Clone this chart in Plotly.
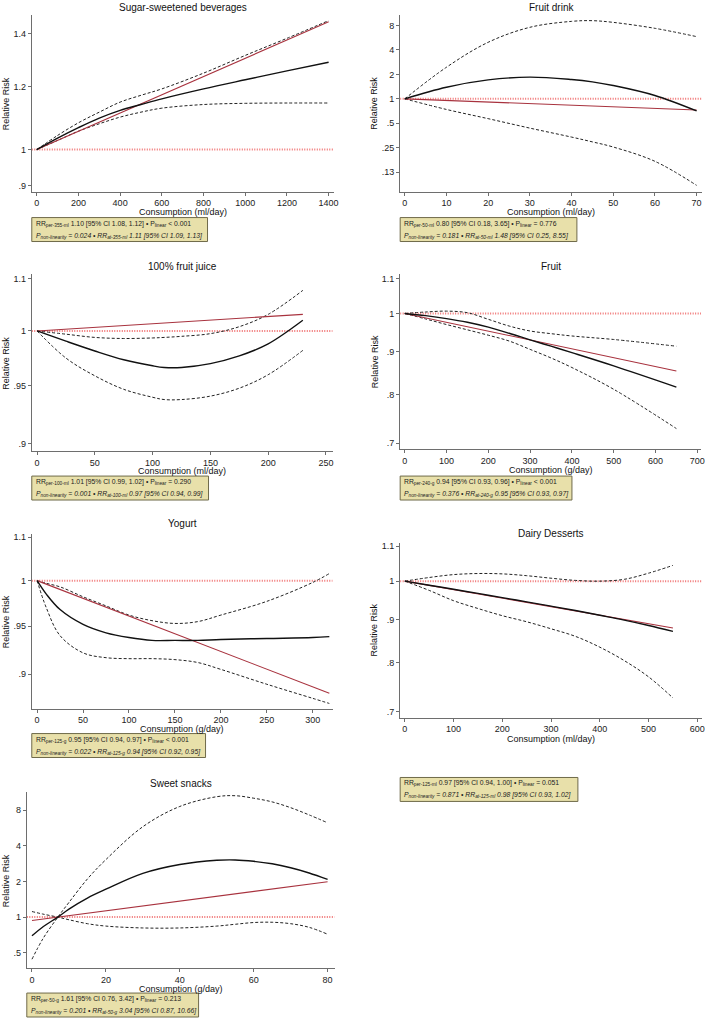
import plotly.graph_objects as go

W, H = 709, 1018

# ---------------- data ----------------
titles = ["Sugar-sweetened beverages", "Fruit drink", "100% fruit juice", "Fruit",
          "Yogurt", "Dairy Desserts", "Sweet snacks"]
x_titles = ["Consumption (ml/day)", "Consumption (ml/day)", "Consumption (ml/day)",
            "Consumption (g/day)", "Consumption (g/day)", "Consumption (ml/day)",
            "Consumption (g/day)"]

# Sugar-sweetened beverages
ssb_x = [0, 100, 200, 300, 400, 500, 600, 800, 1000, 1200, 1400]
ssb_rr = [1.0, 1.034, 1.066, 1.096, 1.121, 1.140, 1.159, 1.193, 1.225, 1.257, 1.289]
ssb_hi = [1.0, 1.042, 1.081, 1.115, 1.148, 1.171, 1.193, 1.249, 1.315, 1.382, 1.455]
ssb_lo = [1.0, 1.027, 1.055, 1.078, 1.099, 1.115, 1.128, 1.140, 1.144, 1.145, 1.145]
ssb_lin_x = [0, 1400]
ssb_lin = [1.0, 1.45]

# Fruit drink
fd_x = [0, 10, 20, 30, 40, 45, 50, 60, 70]
fd_rr = [1.0, 1.39, 1.71, 1.85, 1.73, 1.62, 1.46, 1.10, 0.71]
fd_hi = [1.0, 2.45, 4.97, 7.6, 9.0, 9.18, 8.75, 7.39, 5.84]
fd_lo = [1.0, 0.74, 0.57, 0.436, 0.338, 0.295, 0.255, 0.17, 0.086]
fd_lin_x = [0, 70]
fd_lin = [1.0, 0.73]

# 100% fruit juice
fj_x = [0, 25, 50, 75, 100, 110, 125, 150, 175, 200, 230]
fj_rr = [1.0, 0.9905, 0.9815, 0.9735, 0.968, 0.9665, 0.9665, 0.970, 0.977, 0.988, 1.010]
fj_hi = [1.0, 0.997, 0.994, 0.993, 0.9935, 0.994, 0.995, 0.9975, 1.004, 1.0156, 1.0386]
fj_lo = [1.0, 0.975, 0.959, 0.947, 0.940, 0.938, 0.938, 0.941, 0.948, 0.960, 0.982]
fj_lin_x = [0, 230]
fj_lin = [1.0, 1.0156]

# Fruit
fr_x = [0, 50, 100, 150, 200, 250, 300, 350, 400, 500, 650]
fr_rr = [1.0, 0.994, 0.986, 0.976, 0.963, 0.947, 0.930, 0.914, 0.898, 0.866, 0.817]
fr_hi = [1.0, 1.004, 1.0064, 1.002, 0.984, 0.966, 0.953, 0.946, 0.940, 0.931, 0.914]
fr_lo = [1.0, 0.985, 0.970, 0.956, 0.942, 0.927, 0.906, 0.885, 0.862, 0.812, 0.729]
fr_lin_x = [0, 650]
fr_lin = [1.0, 0.854]

# Yogurt
yo_x = [0, 10, 25, 50, 75, 100, 125, 150, 175, 200, 250, 300, 318]
yo_rr = [1.0, 0.985, 0.968, 0.952, 0.943, 0.938, 0.935, 0.935, 0.935, 0.936, 0.937, 0.938, 0.939]
yo_hi = [1.0, 0.997, 0.993, 0.982, 0.972, 0.962, 0.956, 0.953, 0.955, 0.962, 0.977, 0.998, 1.008]
yo_lo = [1.0, 0.970, 0.940, 0.922, 0.917, 0.916, 0.916, 0.915, 0.912, 0.905, 0.890, 0.876, 0.871]
yo_lin_x = [0, 318]
yo_lin = [1.0, 0.881]

# Dairy desserts
dd_x = [0, 50, 100, 150, 200, 250, 300, 350, 400, 450, 500, 550]
dd_rr = [1.0, 0.989, 0.978, 0.967, 0.956, 0.945, 0.934, 0.923, 0.911, 0.899, 0.886, 0.872]
dd_hi = [1.0, 1.010, 1.018, 1.021, 1.020, 1.015, 1.008, 1.002, 1.000, 1.005, 1.022, 1.044]
dd_lo = [1.0, 0.975, 0.948, 0.928, 0.910, 0.895, 0.878, 0.860, 0.835, 0.805, 0.770, 0.727]
dd_lin_x = [0, 550]
dd_lin = [1.0, 0.880]

# Sweet snacks
ss_x = [0, 3, 7, 10, 15, 20, 30, 40, 50, 55, 60, 65, 70, 75, 80]
ss_rr = [0.695, 0.83, 1.0, 1.17, 1.45, 1.72, 2.34, 2.78, 3.02, 3.04, 2.96, 2.82, 2.61, 2.36, 2.08]
ss_a = [1.115, 1.06, 1.0, 0.95, 0.88, 0.84, 0.81, 0.81, 0.84, 0.87, 0.90, 0.905, 0.88, 0.82, 0.717]
ss_b = [0.441, 0.66, 1.0, 1.33, 2.1, 3.06, 5.8, 8.6, 10.4, 10.6, 10.1, 9.4, 8.4, 7.3, 6.26]
ss_lin_x = [0, 80]
ss_lin = [0.936, 1.99]

# statistics text
st_per = ["per-355-ml", "per-50-ml", "per-100-ml", "per-240-g", "per-125-g", "per-125-ml", "per-50-g"]
st_at = ["at-355-ml", "at-50-ml", "at-100-ml", "at-240-g", "at-125-g", "at-125-ml", "at-50-g"]
st_rr = ["1.10", "0.80", "1.01", "0.94", "0.95", "0.97", "1.61"]
st_ci = ["1.08, 1.12", "0.18, 3.65", "0.99, 1.02", "0.93, 0.96", "0.94, 0.97", "0.94, 1.00", "0.76, 3.42"]
st_plin = ["< 0.001", "= 0.776", "= 0.290", "< 0.001", "< 0.001", "= 0.051", "= 0.213"]
st_pnl = ["0.024", "0.181", "0.001", "0.376", "0.022", "0.871", "0.201"]
st_rr2 = ["1.11", "1.48", "0.97", "0.95", "0.94", "0.98", "3.04"]
st_ci2 = ["1.09, 1.13", "0.25, 8.55", "0.94, 0.99", "0.93, 0.97", "0.92, 0.95", "0.93, 1.02", "0.87, 10.66"]

# axis ticks
x_ticks = [list(range(0, 1401, 200)), list(range(0, 71, 10)), list(range(0, 251, 50)),
           list(range(0, 701, 100)), list(range(0, 301, 50)), list(range(0, 601, 100)),
           list(range(0, 81, 20))]
y_tickvals = [[0.9, 1, 1.2, 1.4], [0.125, 0.25, 0.5, 1, 2, 4, 8], [0.9, 0.95, 1, 1.05],
              [0.7, 0.8, 0.9, 1, 1.1], [0.9, 0.95, 1, 1.05], [0.7, 0.8, 0.9, 1, 1.1],
              [0.5, 1, 2, 4, 8]]
y_ticktext = [[".9", "1", "1.2", "1.4"], [".13", ".25", ".5", "1", "2", "4", "8"],
              [".9", ".95", "1", "1.1"], [".7", ".8", ".9", "1", "1.1"],
              [".9", ".95", "1", "1.1"], [".7", ".8", ".9", "1", "1.1"],
              [".5", "1", "2", "4", "8"]]

# ---------------- layout (pixels) ----------------
# plot frames: left, right, top, bottom
frames = [(32, 336, 13, 190), (403, 707, 13, 190), (32, 335, 273, 450), (403, 706, 273, 448),
          (32, 335, 533, 708), (403, 707, 542, 717), (27, 337, 792, 968)]
x_ranges = [(-23.8, 1424), (-1.1, 71.3), (-4.6, 255.8), (-11, 709), (-5.8, 321.6),
            (-9.6, 609.6), (-1.4, 81.9)]
y_ranges = [(-0.0531, 0.170), (-1.143, 1.033), (-0.0487, 0.0229), (-0.1618, 0.0465),
            (-0.0625, 0.0228), (-0.1618, 0.0453), (-0.4306, 1.053)]
title_y = [6, 6, 265, 265, 523, 533, 783]
xtitle_y = [210.5, 210.5, 469.5, 468.5, 728.5, 738, 988.5]
ytitle_x = [6, 377, 6, 377, 6, 377, 6]
boxes = [(32, 209, 216, 240), (403, 581, 216, 240), (32, 210, 475, 499), (403, 576, 475, 499),
         (32, 207, 733, 757), (403, 582, 777, 801), (27, 200, 993, 1017)]

series = [
    (ssb_x, ssb_rr, [ssb_lo, ssb_hi], ssb_lin_x, ssb_lin),
    (fd_x, fd_rr, [fd_lo, fd_hi], fd_lin_x, fd_lin),
    (fj_x, fj_rr, [fj_lo, fj_hi], fj_lin_x, fj_lin),
    (fr_x, fr_rr, [fr_lo, fr_hi], fr_lin_x, fr_lin),
    (yo_x, yo_rr, [yo_lo, yo_hi], yo_lin_x, yo_lin),
    (dd_x, dd_rr, [dd_lo, dd_hi], dd_lin_x, dd_lin),
    (ss_x, ss_rr, [ss_a, ss_b], ss_lin_x, ss_lin),
]

def px(x):
    return x / W

def py(y):
    return 1 - y / H

FONT = "Liberation Sans, Arial, sans-serif"
AXIS_COLOR = "#6e6e6e"
RED = "#a8323e"
REF = "#f07070"

fig = go.Figure()
annotations = []
shapes = []

for i in range(7):
    n = "" if i == 0 else str(i + 1)
    xa, ya = "x" + n, "y" + n
    l, r, t, b = frames[i]
    xs, rr, cis, lx, ly = series[i]

    # reference line at RR = 1
    fig.add_trace(go.Scatter(x=list(x_ranges[i]), y=[1, 1], mode="lines",
                             line=dict(color=REF, width=2, dash="1px,1.5px"),
                             xaxis=xa, yaxis=ya, showlegend=False, hoverinfo="skip",
                             cliponaxis=False))
    for ci in cis:
        fig.add_trace(go.Scatter(x=xs, y=ci, mode="lines",
                                 line=dict(color="#222222", width=1, dash="3px,2px", shape="spline"),
                                 xaxis=xa, yaxis=ya, showlegend=False))
    fig.add_trace(go.Scatter(x=lx, y=ly, mode="lines", line=dict(color=RED, width=1.1),
                             xaxis=xa, yaxis=ya, showlegend=False))
    fig.add_trace(go.Scatter(x=xs, y=rr, mode="lines",
                             line=dict(color="#111111", width=1.4, shape="spline"),
                             xaxis=xa, yaxis=ya, showlegend=False))

    axis_common = dict(showline=True, linecolor=AXIS_COLOR, linewidth=1, ticks="outside",
                       ticklen=3, tickcolor=AXIS_COLOR, tickwidth=1, showgrid=False,
                       zeroline=False, tickfont=dict(family=FONT, size=9, color="#222"))
    fig.layout["xaxis" + n] = dict(domain=[px(l), px(r)], anchor=ya, range=list(x_ranges[i]),
                                   tickvals=x_ticks[i], **axis_common)
    fig.layout["yaxis" + n] = dict(domain=[py(b), py(t)], anchor=xa, type="log",
                                   range=list(y_ranges[i]), tickvals=y_tickvals[i],
                                   ticktext=y_ticktext[i], **axis_common)

    # titles
    annotations.append(dict(text=titles[i], x=px((l + r) / 2), y=py(title_y[i]), xref="paper",
                            yref="paper", showarrow=False, xanchor="center", yanchor="middle",
                            font=dict(family=FONT, size=10, color="#111")))
    annotations.append(dict(text=x_titles[i], x=px((l + r) / 2), y=py(xtitle_y[i]), xref="paper",
                            yref="paper", showarrow=False, xanchor="center", yanchor="middle",
                            font=dict(family=FONT, size=9, color="#111")))
    annotations.append(dict(text="Relative Risk", x=px(ytitle_x[i]), y=py((t + b) / 2),
                            xref="paper", yref="paper", showarrow=False, textangle=-90,
                            xanchor="center", yanchor="middle",
                            font=dict(family=FONT, size=9, color="#111")))

    # stats box
    bl, br, bt, bb = boxes[i]
    shapes.append(dict(type="rect", xref="paper", yref="paper", x0=px(bl), x1=px(br),
                       y0=py(bb), y1=py(bt), fillcolor="#e8e0aa",
                       line=dict(color="#6f6a4a", width=1), layer="above"))
    line1 = (f"RR<sub>{st_per[i]}</sub> {st_rr[i]} [95% CI {st_ci[i]}] \u2022 "
             f"P<sub>linear</sub> {st_plin[i]}")
    line2 = (f"<i>P<sub>non-linearity</sub> = {st_pnl[i]} \u2022 RR<sub>{st_at[i]}</sub> "
             f"{st_rr2[i]} [95% CI {st_ci2[i]}]</i>")
    annotations.append(dict(text=line1, x=px(bl + 2), y=py(bt + 6), xref="paper", yref="paper",
                            showarrow=False, xanchor="left", yanchor="middle",
                            font=dict(family=FONT, size=6.8, color="#222")))
    annotations.append(dict(text=line2, x=px(bl + 2), y=py(bt + 18), xref="paper", yref="paper",
                            showarrow=False, xanchor="left", yanchor="middle",
                            font=dict(family=FONT, size=6.8, color="#222")))

fig.update_layout(width=W, height=H, autosize=False, margin=dict(l=0, r=0, t=0, b=0),
                  paper_bgcolor="white", plot_bgcolor="white", annotations=annotations,
                  shapes=shapes, showlegend=False)

fig.write_html("out.html", config={"displayModeBar": False},
               post_script="document.body.style.margin='0px';document.body.style.overflow='hidden';")
